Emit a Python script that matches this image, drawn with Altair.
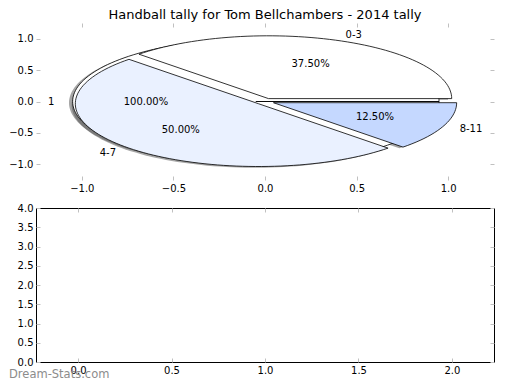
import math
import altair as alt
import pandas as pd

TITLE = "Handball tally for Tom Bellchambers - 2014 tally"

# main pie (counts read from the percentages 37.5 / 50 / 12.5)
slice_names = ["0-3", "4-7", "8-11"]
slice_values = [3, 4, 1]
slice_colors = ["#ffffff", "#eaf1ff", "#c5d8ff"]

# background single-value pie drawn underneath
base_names = ["1"]
base_values = [1]
base_colors = ["#ffffff"]

EXPLODE = 0.05
SHADOW = -0.02

pie_ticks = [-1.0, -0.5, 0.0, 0.5, 1.0]
bottom_x_ticks = [0.0, 0.5, 1.0, 1.5, 2.0]
bottom_y_ticks = [0.0, 0.5, 1.0, 1.5, 2.0, 2.5, 3.0, 3.5, 4.0]
WATERMARK = "Dream-Stats.com"

FONT = "DejaVu Sans"
TICK_COLOR = "#c0c0c0"

TOP_W, TOP_H = 458, 157
BOT_H = 154


def build(names, values, colors, prefix):
    total = float(sum(values))
    poly, shadow, labels = [], [], []
    start = 0.0
    for n, v, c in zip(names, values, colors):
        frac = v / total
        t1, t2 = start * 360.0, (start + frac) * 360.0
        mid = math.radians((t1 + t2) / 2)
        cx, cy = EXPLODE * math.cos(mid), EXPLODE * math.sin(mid)
        pts = [(cx, cy)]
        steps = max(2, int(abs(t2 - t1) / 2))
        for k in range(steps + 1):
            t = math.radians(t1 + (t2 - t1) * k / steps)
            pts.append((cx + math.cos(t), cy + math.sin(t)))
        pts.append((cx, cy))
        for i, (x, y) in enumerate(pts):
            poly.append({"key": prefix + n, "i": i, "x": x, "y": y, "fill": c})
            shadow.append({"key": prefix + n, "i": i, "x": x + SHADOW, "y": y + SHADOW})
        lx = cx + 1.1 * math.cos(mid)
        labels.append({
            "name": n,
            "pct": f"{frac * 100:.2f}%",
            "lx": lx, "ly": cy + 1.1 * math.sin(mid),
            "px": cx + 0.6 * math.cos(mid), "py": cy + 0.6 * math.sin(mid),
            "side": "left" if lx > 0 else "right",
        })
        start += frac
    return poly, shadow, labels


bp, bs, bl = build(base_names, base_values, base_colors, "b_")
mp, ms, ml = build(slice_names, slice_values, slice_colors, "m_")

shadow_df = pd.DataFrame(bs + ms)
base_df = pd.DataFrame(bp)
main_df = pd.DataFrame(mp)
lab_df = pd.DataFrame(bl + ml)

xs = alt.Scale(domain=[-1.25, 1.25], nice=False, zero=False)
ys = alt.Scale(domain=[-1.25, 1.25], nice=False, zero=False)


def ax(orient, values, labels=True, fmt=".1f"):
    return alt.Axis(
        orient=orient, values=values, format=fmt, labels=labels, title=None,
        domain=False, grid=False, ticks=True, tickColor=TICK_COLOR, tickSize=4,
        tickWidth=1, offset=-4, labelPadding=3, labelFont=FONT, labelFontSize=10,
        labelColor="black", labelFlush=False, labelOverlap=False,
    )


shadow = alt.Chart(shadow_df).mark_line(
    fill="#4d4d4d", fillOpacity=0.5, strokeOpacity=0
).encode(
    x=alt.X("x:Q", scale=xs, axis=ax("bottom", pie_ticks)),
    y=alt.Y("y:Q", scale=ys, axis=ax("left", pie_ticks)),
    detail="key:N",
    order="i:Q",
)

frame_axes = alt.Chart(shadow_df).mark_point(opacity=0).encode(
    x=alt.X("x:Q", scale=xs, axis=ax("top", pie_ticks, labels=False)),
    y=alt.Y("y:Q", scale=ys, axis=ax("right", pie_ticks, labels=False)),
)


def wedge_layer(df):
    return alt.Chart(df).mark_line(stroke="black", strokeWidth=0.8, strokeJoin="miter").encode(
        x=alt.X("x:Q", scale=xs, axis=None),
        y=alt.Y("y:Q", scale=ys, axis=None),
        fill=alt.Fill("fill:N", scale=None),
        detail="key:N",
        order="i:Q",
    )


def text_layer(df, xcol, ycol, tcol, align):
    return alt.Chart(df).mark_text(
        align=align, baseline="middle", font=FONT, fontSize=10, color="black"
    ).encode(
        x=alt.X(f"{xcol}:Q", scale=xs, axis=None),
        y=alt.Y(f"{ycol}:Q", scale=ys, axis=None),
        text=f"{tcol}:N",
    )


left_lab = lab_df[lab_df["side"] == "left"]
right_lab = lab_df[lab_df["side"] == "right"]

top = alt.layer(
    shadow,
    frame_axes,
    wedge_layer(base_df),
    wedge_layer(main_df),
    text_layer(left_lab, "lx", "ly", "name", "left"),
    text_layer(right_lab, "lx", "ly", "name", "right"),
    text_layer(lab_df, "px", "py", "pct", "center"),
).resolve_axis(x="independent", y="independent").properties(
    width=TOP_W, height=TOP_H,
    title=alt.TitleParams(TITLE, font=FONT, fontSize=13, fontWeight="normal",
                          anchor="middle", frame="group", color="black", offset=1),
    view=alt.ViewBackground(stroke=None),
)

bxs = alt.Scale(domain=[-0.225, 2.225], nice=False, zero=False)
bys = alt.Scale(domain=[0, 4], nice=False, zero=False)
bdf = pd.DataFrame({"x": bottom_x_ticks, "y": bottom_y_ticks[:len(bottom_x_ticks)]})

b1 = alt.Chart(bdf).mark_point(opacity=0).encode(
    x=alt.X("x:Q", scale=bxs, axis=ax("bottom", bottom_x_ticks)),
    y=alt.Y("y:Q", scale=bys, axis=ax("left", bottom_y_ticks)),
)
b2 = alt.Chart(bdf).mark_point(opacity=0).encode(
    x=alt.X("x:Q", scale=bxs, axis=ax("top", bottom_x_ticks, labels=False)),
    y=alt.Y("y:Q", scale=bys, axis=ax("right", bottom_y_ticks, labels=False)),
)
wm = alt.Chart(pd.DataFrame({"t": [WATERMARK]})).mark_text(
    align="left", baseline="middle", font=FONT, fontSize=11.5, color="#8c8c8c"
).encode(
    x=alt.value(-27), y=alt.value(BOT_H + 13), text="t:N"
)

bottom = alt.layer(b1, b2, wm).resolve_axis(x="independent", y="independent").properties(
    width=TOP_W, height=BOT_H,
    view=alt.ViewBackground(stroke="black", strokeWidth=1),
)

chart = alt.vconcat(top, bottom, spacing=9).properties(
    padding=0, background="white"
).configure_view(stroke=None)

chart.save("out.html", embed_options={"renderer": "svg", "actions": False})
